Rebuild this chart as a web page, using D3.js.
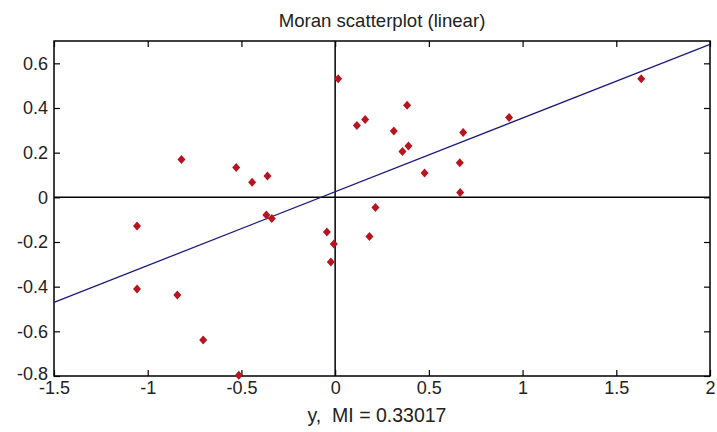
<!DOCTYPE html>
<html>
<head>
<meta charset="utf-8">
<script src="https://cdn.jsdelivr.net/npm/d3@7"></script>
<style>
  html, body { margin: 0; padding: 0; background: #fff; }
  svg { display: block; font-family: "Liberation Sans", Arial, sans-serif; }
</style>
</head>
<body>
<svg id="chart" width="717" height="432"></svg>
<script>
// ---- data ----
const xValues = [0.016, 0.116, -0.82, -0.528, -0.443, -0.361, -0.367, -0.338, 0.160, 0.384,
                 0.313, 0.359, 0.391, 0.683, 0.928, 1.633, 0.665, 0.477, 0.667, 0.215,
                 0.183, -1.057, -1.057, -0.842, -0.704, -0.514, -0.044, -0.007, -0.023];
const yValues = [0.531, 0.322, 0.169, 0.134, 0.067, 0.095, -0.079, -0.095, 0.349, 0.412,
                 0.297, 0.205, 0.230, 0.290, 0.358, 0.531, 0.155, 0.109, 0.022, -0.045,
                 -0.175, -0.128, -0.411, -0.437, -0.639, -0.797, -0.155, -0.209, -0.290];
const xTicks = [-1.5, -1, -0.5, 0, 0.5, 1, 1.5, 2];
const yTicks = [-0.8, -0.6, -0.4, -0.2, 0, 0.2, 0.4, 0.6];
const xDomain = [-1.5, 2];
const yDomain = [-0.8, 0.7];
const moranI = 0.33017;     // slope of the fitted line
const intercept = 0.025;
const titleText = "Moran scatterplot (linear)";
const xLabelText = "y,\u00a0 MI = " + moranI;

// ---- layout ----
const svg = d3.select("#chart");
const m = { left: 54, right: 7, top: 41, bottom: 56 };
const W = 717, H = 432;
const x = d3.scaleLinear().domain(xDomain).range([m.left, W - m.right]);
const y = d3.scaleLinear().domain(yDomain).range([H - m.bottom, m.top]);

const fmt = d => String(d);

// axes with inward ticks
const tl = 6;
svg.append("g").attr("transform", `translate(0,${y(yDomain[0])})`)
  .call(d3.axisBottom(x).tickValues(xTicks).tickFormat(fmt).tickSize(-tl).tickPadding(5))
  .call(g => g.select(".domain").remove())
  .call(g => g.selectAll("text").attr("font-size", 18).attr("fill", "#222").attr("font-family", "Liberation Sans, Arial, sans-serif"));
svg.append("g").attr("transform", `translate(0,${y(yDomain[1])})`)
  .call(d3.axisTop(x).tickValues(xTicks).tickFormat("").tickSize(-tl))
  .call(g => g.select(".domain").remove());
svg.append("g").attr("transform", `translate(${x(xDomain[0])},0)`)
  .call(d3.axisLeft(y).tickValues(yTicks).tickFormat(fmt).tickSize(-tl).tickPadding(6))
  .call(g => g.select(".domain").remove())
  .call(g => g.selectAll("text").attr("font-size", 18).attr("fill", "#222").attr("font-family", "Liberation Sans, Arial, sans-serif"))
  .call(g => g.selectAll(".tick").filter(d => d === yDomain[0]).select("text").attr("dy", "0.2em"));
svg.append("g").attr("transform", `translate(${x(xDomain[1])},0)`)
  .call(d3.axisRight(y).tickValues(yTicks).tickFormat("").tickSize(-tl))
  .call(g => g.select(".domain").remove());
svg.selectAll(".tick line").attr("stroke", "#000").attr("stroke-width", 1.2);

// frame
svg.append("rect")
  .attr("x", x(xDomain[0])).attr("y", y(yDomain[1]))
  .attr("width", x(xDomain[1]) - x(xDomain[0]))
  .attr("height", y(yDomain[0]) - y(yDomain[1]))
  .attr("fill", "none").attr("stroke", "#000").attr("stroke-width", 1.5);

// zero lines
svg.append("line")
  .attr("x1", x(xDomain[0])).attr("x2", x(xDomain[1]))
  .attr("y1", y(0)).attr("y2", y(0))
  .attr("stroke", "#000").attr("stroke-width", 1.5);
svg.append("line")
  .attr("x1", x(0)).attr("x2", x(0))
  .attr("y1", y(yDomain[0])).attr("y2", y(yDomain[1]))
  .attr("stroke", "#000").attr("stroke-width", 1.5);

// regression line
svg.append("line")
  .attr("x1", x(xDomain[0])).attr("y1", y(intercept + moranI * xDomain[0]))
  .attr("x2", x(xDomain[1])).attr("y2", y(intercept + moranI * xDomain[1]))
  .attr("stroke", "#1c1c78").attr("stroke-width", 1.3);

// points (diamonds)
const pts = xValues.map((v, i) => ({ x: v, y: yValues[i] }));
svg.append("g").selectAll("path").data(pts).enter().append("path")
  .attr("transform", d => `translate(${x(d.x)},${y(d.y)})`)
  .attr("d", "M0,-4.5L4,0L0,4.5L-4,0Z")
  .attr("fill", "#b8141f");

// title
svg.append("text")
  .attr("x", 382).attr("y", 27)
  .attr("text-anchor", "middle").attr("font-size", 18.6).attr("fill", "#222")
  .text(titleText);

// x label
svg.append("text")
  .attr("x", 377).attr("y", 422)
  .attr("text-anchor", "middle").attr("font-size", 19.5).attr("fill", "#222")
  .text(xLabelText);
</script>
</body>
</html>
